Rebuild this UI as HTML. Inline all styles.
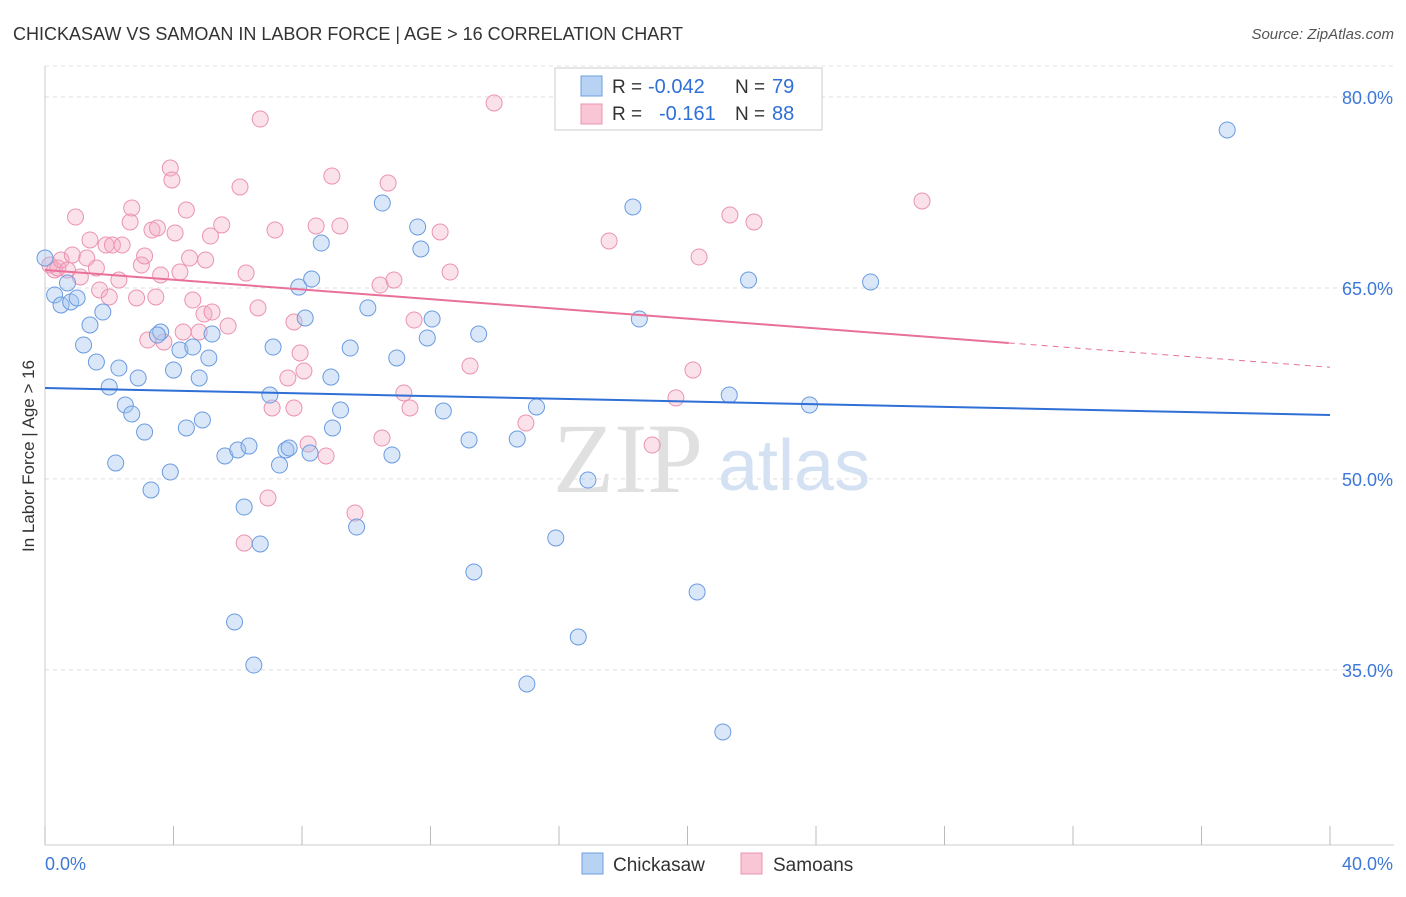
<!DOCTYPE html>
<html><head><meta charset="utf-8">
<style>
html,body{margin:0;padding:0;background:#fff;}
body{width:1406px;height:892px;overflow:hidden;font-family:"Liberation Sans",sans-serif;}
</style></head>
<body>
<svg id="chart" width="1406" height="892" xmlns="http://www.w3.org/2000/svg" font-family="Liberation Sans, sans-serif">
<text x="13" y="40" font-size="18" fill="#333">CHICKASAW VS SAMOAN IN LABOR FORCE | AGE &gt; 16 CORRELATION CHART</text>
<text x="1394" y="39" font-size="15" fill="#555" text-anchor="end" font-style="italic">Source: ZipAtlas.com</text>
<text transform="translate(34,456) rotate(-90)" font-size="17" fill="#333" text-anchor="middle">In Labor Force | Age &gt; 16</text>
<g id="grid"></g>
<g id="axes"></g>
<text x="553" y="492" font-size="100" fill="#e0e0e0" font-family="Liberation Serif, serif">ZIP</text>
<text x="718" y="490" font-size="72" fill="#d3e1f3">atlas</text>
<g id="pts"></g>
<g id="trends"></g>
<g>
<rect x="555" y="68" width="267" height="62" fill="#fff" stroke="#ccc"/>
<rect x="581" y="76" width="21" height="20" fill="#b8d2f4" stroke="#6f9fdd"/>
<rect x="581" y="104" width="21" height="20" fill="#f9c6d6" stroke="#ea93b0"/>
<text x="612" y="93" font-size="19" fill="#333">R =</text>
<text x="648" y="93" font-size="20" fill="#2f6fd6">-0.042</text>
<text x="735" y="93" font-size="19" fill="#333">N =</text>
<text x="772" y="93" font-size="20" fill="#2f6fd6">79</text>
<text x="612" y="120" font-size="19" fill="#333">R =</text>
<text x="659" y="120" font-size="20" fill="#2f6fd6">-0.161</text>
<text x="735" y="120" font-size="19" fill="#333">N =</text>
<text x="772" y="120" font-size="20" fill="#2f6fd6">88</text>
</g>
<g>
<rect x="582" y="853" width="21" height="21" fill="#b8d2f4" stroke="#6f9fdd"/>
<text x="613" y="871" font-size="19" fill="#333">Chickasaw</text>
<rect x="741" y="853" width="21" height="21" fill="#f9c6d6" stroke="#ea93b0"/>
<text x="773" y="871" font-size="19" fill="#333">Samoans</text>
</g>
</svg>
<script>
const yTicks=[80,65,50,35];
const xTickLabels=["0.0%","40.0%"];
const chickX=[0.0,0.3,0.5,0.8,1.0,0.7,1.4,1.2,1.8,1.6,2.0,2.3,2.5,2.7,2.9,3.1,2.2,3.3,3.6,3.5,3.9,4.0,4.2,4.4,4.6,4.8,4.9,5.1,5.2,5.6,6.0,6.2,6.35,5.9,6.5,6.7,7.1,7.0,7.3,7.5,7.6,7.9,8.1,8.3,8.25,8.6,8.9,8.95,9.2,9.5,9.7,10.05,10.5,10.95,10.8,11.6,11.7,11.9,12.05,12.4,13.2,13.35,13.5,14.7,15.0,15.3,15.9,16.6,16.9,18.3,18.5,20.3,21.1,21.3,21.9,23.8,25.7,36.8];
const chickY=[67.35,64.45,63.66,63.90,64.21,65.39,62.09,60.52,63.11,59.18,57.22,58.71,55.81,55.10,57.93,53.68,51.25,49.13,61.54,61.30,50.54,58.55,60.13,54.00,60.36,57.93,54.63,59.50,61.38,51.80,52.27,47.79,52.58,38.76,35.38,44.89,60.36,56.59,51.09,52.27,52.43,65.07,62.64,65.70,52.03,68.53,58.00,54.00,55.41,60.28,46.22,63.43,71.67,59.50,51.88,69.79,68.06,61.07,62.56,55.33,53.06,42.69,61.38,53.13,33.89,55.65,45.36,37.58,49.91,71.36,62.56,41.12,30.12,56.59,65.62,55.81,65.47,77.41];
const samX=[0.15,0.3,0.4,0.5,0.7,0.85,0.95,1.1,1.3,1.4,1.6,1.7,1.9,2.0,2.1,2.3,2.4,2.65,2.7,2.85,3.0,3.1,3.2,3.33,3.45,3.5,3.6,3.7,3.9,3.95,4.05,4.2,4.3,4.4,4.5,4.6,4.8,4.95,5.0,5.15,5.2,5.5,5.7,6.07,6.26,6.2,6.63,6.7,6.94,7.07,7.16,7.56,7.75,7.75,7.94,8.06,8.19,8.44,8.75,8.93,9.18,9.65,10.49,10.43,10.68,10.86,11.17,11.36,11.49,12.3,12.61,13.23,13.98,14.97,17.56,18.9,19.64,20.17,20.36,21.32,22.07,27.3];
const samY=[66.80,66.41,66.57,67.20,66.41,67.59,70.57,65.86,67.35,68.77,66.57,64.84,68.37,64.29,68.37,65.62,68.37,70.18,71.28,64.21,66.80,67.51,60.91,69.55,64.29,69.71,66.02,60.75,74.42,73.48,69.32,66.25,61.54,71.12,67.35,64.05,61.54,62.95,67.20,69.08,63.11,69.95,62.01,72.93,66.17,44.96,63.43,78.27,48.50,55.57,69.55,57.93,55.57,62.33,59.89,58.48,52.74,69.87,51.80,73.79,69.87,47.32,53.21,65.23,73.24,65.62,56.75,55.57,62.48,69.40,66.25,58.87,79.53,54.39,68.69,52.66,56.36,58.55,67.43,70.73,70.18,71.83];
const trendChick=[57.14,55.02];
const trendSam=[66.41,58.77];
const X=v=>45+v*32.125, Y=v=>97+(80-v)*12.73;
const NS="http://www.w3.org/2000/svg";
function mk(t,a,p){const e=document.createElementNS(NS,t);for(const k in a)e.setAttribute(k,a[k]);p.appendChild(e);return e;}
const grid=document.getElementById('grid'),axes=document.getElementById('axes'),pts=document.getElementById('pts'),tr=document.getElementById('trends');
yTicks.forEach(v=>{
 const l=mk('line',{x1:45,x2:1394,y1:Y(v),y2:Y(v),stroke:'#ddd','stroke-dasharray':'4,4'},grid);
 
 
 const t=mk('text',{x:1393,y:Y(v)+7,'font-size':18,fill:'#3d78d8','text-anchor':'end'},axes);t.textContent=v.toFixed(1)+'%';
 
 
});
mk('line',{x1:45,x2:1394,y1:66,y2:66,stroke:'#e4e4e4','stroke-dasharray':'4,4'},grid);
mk('line',{x1:45,x2:45,y1:66,y2:845,stroke:'#ccc'},axes);
mk('line',{x1:45,x2:1394,y1:845,y2:845,stroke:'#ccc'},axes);
for(let i=0;i<=10;i++){mk('line',{x1:X(i*4),x2:X(i*4),y1:826,y2:845,stroke:'#bbb'},axes);}
const t0=mk('text',{x:45,y:870,'font-size':18,fill:'#3d78d8'},axes);t0.textContent=xTickLabels[0];


const t1=mk('text',{x:1393,y:870,'font-size':18,fill:'#3d78d8','text-anchor':'end'},axes);t1.textContent=xTickLabels[1];


samX.forEach((x,i)=>{const c=mk('circle',{cx:X(x),cy:Y(samY[i]),r:8,fill:'rgba(244,170,195,0.35)',stroke:'#eb93b1','stroke-width':1},pts);
 
 });
chickX.forEach((x,i)=>{const c=mk('circle',{cx:X(x),cy:Y(chickY[i]),r:8,fill:'rgba(160,195,240,0.4)',stroke:'#6b9be0','stroke-width':1},pts);
 
 });
const lb=mk('line',{x1:X(0),y1:Y(trendChick[0]),x2:X(40),y2:Y(trendChick[1]),stroke:'#2f6fd6','stroke-width':2},tr);


const sy=v=>trendSam[0]+(trendSam[1]-trendSam[0])*v/40;
const lp=mk('line',{x1:X(0),y1:Y(sy(0)),x2:X(30),y2:Y(sy(30)),stroke:'#e8709a','stroke-width':2},tr);


const ld=mk('line',{x1:X(30),y1:Y(sy(30)),x2:X(40),y2:Y(sy(40)),stroke:'#e8709a','stroke-width':1,'stroke-dasharray':'6,5'},tr);


</script>
</body></html>
